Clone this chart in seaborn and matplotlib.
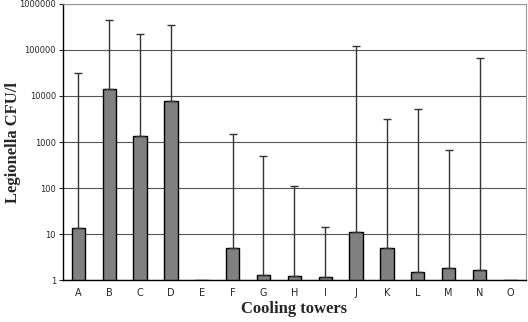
import numpy as np
import pandas as pd
import seaborn as sns
import matplotlib.pyplot as plt
from matplotlib.ticker import FixedLocator, FuncFormatter, NullFormatter

towers = ["A", "B", "C", "D", "E", "F", "G", "H", "I", "J", "K", "L", "M", "N", "O"]
cfu_mean = [13.5, 14000, 1350, 7800, 1, 5, 1.3, 1.25, 1.15, 11.2, 5.1, 1.5, 1.85, 1.7, 1]
cfu_max = [31600, 450000, 220000, 340000, np.nan, 1480, 500, 110, 14, 120000, 3100, 5300, 680, 66000, np.nan]

df = pd.DataFrame({"tower": towers, "cfu": cfu_mean, "top": cfu_max})

sns.set_style("white")
fig, ax = plt.subplots(figsize=(5.28, 3.22), dpi=100)
fig.subplots_adjust(left=0.119, right=0.996, top=0.988, bottom=0.130)

ax.set_yscale("log")
sns.barplot(data=df, x="tower", y="cfu", order=towers, color="#808080",
            saturation=1, edgecolor="black", linewidth=1.0, width=0.43, ax=ax)

# one-sided error bars (upper only)
xs = np.arange(len(towers))
up = df["top"] - df["cfu"]
ok = ~df["top"].isna()
ax.errorbar(xs[ok], df["cfu"][ok], yerr=[np.zeros(ok.sum()), up[ok]],
            fmt="none", ecolor="#333333", elinewidth=1.0, capsize=3, capthick=1.0, zorder=3)

ax.set_ylim(1, 1e6)
ax.set_xlim(-0.5, len(towers) - 0.5)
ax.yaxis.set_major_locator(FixedLocator([10 ** i for i in range(7)]))
ax.yaxis.set_major_formatter(FuncFormatter(lambda v, p: "%d" % v))
ax.yaxis.set_minor_formatter(NullFormatter())
ax.yaxis.set_minor_locator(FixedLocator([]))
ax.grid(axis="y", color="#555555", linewidth=0.8)
ax.set_axisbelow(True)

ax.set_xticks(xs)
ax.set_xticks(np.arange(len(towers) + 1) - 0.5, minor=True)
ax.tick_params(axis="x", which="major", length=0, labelsize=7, pad=6)
ax.tick_params(axis="x", which="minor", length=3, width=0.8, color="#333333")
ax.tick_params(axis="y", which="major", length=3, width=0.8, labelsize=6, left=True, pad=2)

for s in ["left", "bottom"]:
    ax.spines[s].set_color("black")
    ax.spines[s].set_linewidth(1.0)
for s in ["top", "right"]:
    ax.spines[s].set_color("#999999")
    ax.spines[s].set_linewidth(0.8)

ax.set_xlabel("Cooling towers", fontfamily="Liberation Serif", fontweight="bold", fontsize=12, labelpad=2)
ax.set_ylabel("Legionella CFU/l", fontfamily="Liberation Serif", fontweight="bold", fontsize=12)
ax.yaxis.set_label_coords(-0.091, 0.5)

fig.savefig("out.png", dpi=100)
